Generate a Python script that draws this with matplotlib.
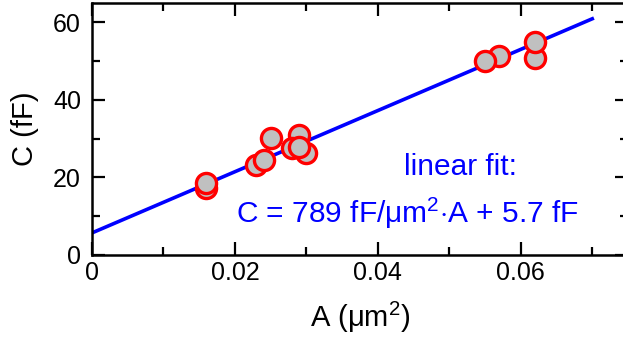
import matplotlib
matplotlib.use("Agg")
import matplotlib.pyplot as plt
import numpy as np
from matplotlib.ticker import MultipleLocator

plt.rcParams['font.family'] = ['Liberation Sans', 'DejaVu Sans']
plt.rcParams['mathtext.fontset'] = 'custom'
plt.rcParams['mathtext.rm'] = 'Liberation Sans'
plt.rcParams['mathtext.it'] = 'Liberation Sans:italic'

# measured points (area in um^2, capacitance in fF), in drawing order
area = [0.016, 0.016, 0.023, 0.024, 0.025, 0.029, 0.028, 0.030, 0.029,
        0.057, 0.055, 0.062, 0.062]
cap = [17.2, 18.6, 23.2, 24.5, 30.2, 31.0, 27.6, 26.4, 27.9,
       51.4, 50.1, 50.9, 55.0]

# linear fit parameters
slope = 789.0
offset = 5.7
fit_range = (0.0, 0.07)

fig = plt.figure(figsize=(6.23, 3.38), dpi=100)
ax = fig.add_axes([92 / 623, 83 / 338, 536 / 623, 252 / 338])

xf = np.linspace(fit_range[0], fit_range[1], 50)
ax.plot(xf, slope * xf + offset, color='#0000ff', linewidth=2.6, zorder=2)
for a, c in zip(area, cap):
    ax.plot(a, c, 'o', markersize=14.5, markerfacecolor='#c0c0c0',
            markeredgecolor='#ff0000', markeredgewidth=2.4, zorder=3)

ax.set_xlim(0, 0.075)
ax.set_ylim(0, 65)
ax.xaxis.set_major_locator(MultipleLocator(0.02))
ax.xaxis.set_minor_locator(MultipleLocator(0.01))
ax.yaxis.set_major_locator(MultipleLocator(20))
ax.yaxis.set_minor_locator(MultipleLocator(10))
ax.set_xticks([0, 0.02, 0.04, 0.06], ['0', '0.02', '0.04', '0.06'])

ax.tick_params(which='both', direction='in', top=True, right=True,
               width=1.6, labelsize=18)
ax.tick_params(which='major', length=9.5)
ax.tick_params(which='minor', length=6)
ax.tick_params(axis='x', pad=4)
ax.tick_params(axis='y', pad=8)
for s in ax.spines.values():
    s.set_linewidth(1.8)

ax.set_xlabel(r'A ($\mathrm{\mu m^2}$)', fontsize=21, labelpad=11)
ax.set_ylabel('C (fF)', fontsize=21, labelpad=10)

ax.text(0.0516, 22.7, 'linear fit:', color='#0000ff', fontsize=21.5,
        ha='center', va='center')
ax.text(0.0441, 10.8, r'C = 789 fF/$\mathrm{\mu m^2}$$\cdot$A + 5.7 fF',
        color='#0000ff', fontsize=21.5, ha='center', va='center')

fig.savefig('out.png', dpi=100)
